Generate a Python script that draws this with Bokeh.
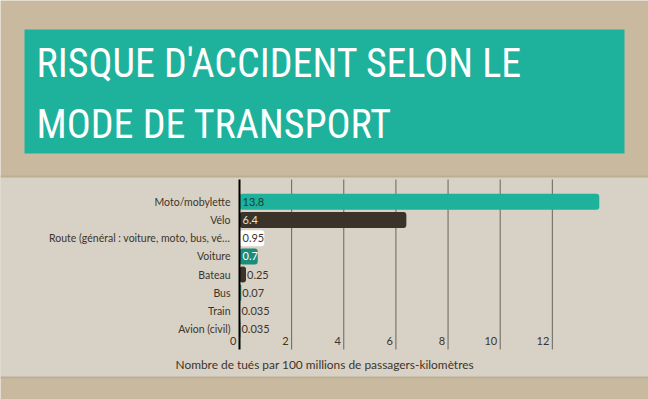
from bokeh.plotting import figure
from bokeh.models import Range1d
from bokeh.core.properties import value
from bokeh.embed import file_html
from bokeh.resources import INLINE

# ---- data ----
categories = ["Moto/mobylette", "Vélo", "Route (général : voiture, moto, bus, vé…",
              "Voiture", "Bateau", "Bus", "Train", "Avion (civil)"]
values = [13.8, 6.4, 0.95, 0.7, 0.25, 0.07, 0.035, 0.035]
value_labels = ["13.8", "6.4", "0.95", "0.7", "0.25", "0.07", "0.035", "0.035"]
x_ticks = [0, 2, 4, 6, 8, 10, 12]
tick_labels = ["0", "2", "4", "6", "8", "10", "12"]
title_lines = ["RISQUE D'ACCIDENT SELON LE", "MODE DE TRANSPORT"]
axis_title = "Nombre de tués par 100 millions de passagers-kilomètres"

# ---- style ----
TAN = "#c9ba9f"
PANEL = "#d8d1c5"
EDGE = "#bcae93"
TEAL = "#1eb19b"
DARK = "#3b332a"
TXT = "#3d352b"
bar_colors = [TEAL, DARK, "#ffffff", "#1a8c7b", DARK, "#1a9c89", "#ffffff", "#1a8c7b"]
label_colors = ["#173f38", "#e6e0d6", TXT, "#ffffff", TXT, TXT, TXT, TXT]
FONT = "Lato"
TITLE_FONT = "Liberation Sans Narrow, Roboto Condensed, Open Sans"

W, H = 648, 399
# layout scale: pixels of the page <-> data units
X0, KX = 239.0, 26.07     # page x of value 0, pixels per unit
Y0, KY = 201.3, 18.2      # page y of first row, pixels per row


def X(px):
    return (px - X0) / KX


def Y(py):
    return (py - Y0) / KY


p = figure(width=W, height=H, output_backend="svg", toolbar_location=None,
           x_range=Range1d(X(0), X(W)), y_range=Range1d(Y(H), Y(0)),
           x_axis_type=None, y_axis_type=None, min_border=0,
           outline_line_color=None)
p.background_fill_color = TAN
p.border_fill_color = TAN
p.grid.visible = False

# light panel and title box
p.quad(left=[X(0)], right=[X(W)], top=[Y(176)], bottom=[Y(377)],
       fill_color=PANEL, line_color=None)
p.segment(x0=[X(0)] * 2, x1=[X(W)] * 2, y0=[Y(176), Y(377)], y1=[Y(176), Y(377)],
          line_color=EDGE, line_width=2)
p.quad(left=[X(24)], right=[X(624)], top=[Y(29)], bottom=[Y(153)],
       fill_color=TEAL, line_color=None)
p.text(x=[X(36)] * 2, y=[Y(63), Y(124)], text=title_lines, text_font=value(TITLE_FONT),
       text_font_size="40px", text_color="#ffffff", text_baseline="middle")

# grid lines
grid_x = [t for t in x_ticks if t != 0]
p.segment(x0=grid_x, x1=grid_x, y0=Y(179), y1=Y(349), line_color="#6a645a", line_width=1)

# bars
idx = list(range(len(categories)))
p.hbar(y=idx, left=0, right=values, height=16 / KY, fill_color=bar_colors,
       line_color=None, border_radius=3)

# zero line
p.segment(x0=[0], x1=[0], y0=Y(179), y1=Y(349), line_color="#000000", line_width=2)

# value labels
inside = [v > 0.5 for v in values]
label_x = [0 if ins else v for ins, v in zip(inside, values)]
label_off = [3 if ins else 1 for ins in inside]
p.text(x=label_x, y=idx, text=value_labels, x_offset=label_off, text_baseline="middle",
       text_align="left", text_font=value(FONT), text_font_size="11px", text_color=label_colors)

# category labels
p.text(x=[0] * len(idx), y=idx, text=categories, x_offset=-9, text_align="right",
       text_baseline="middle", text_font=value(FONT), text_font_size="10.5px", text_color=TXT)

# x tick labels
p.text(x=x_ticks, y=[Y(340.5)] * len(x_ticks), text=tick_labels, x_offset=-3,
       text_align="right", text_baseline="middle", text_font=value(FONT),
       text_font_size="11px", text_color=TXT)

# axis title
p.text(x=[X(175)], y=[Y(363.5)], text=[axis_title], text_align="left",
       text_baseline="middle", text_font=value(FONT), text_font_size="11.9px", text_color=TXT)

open("out.html", "w").write(file_html(p, INLINE))
